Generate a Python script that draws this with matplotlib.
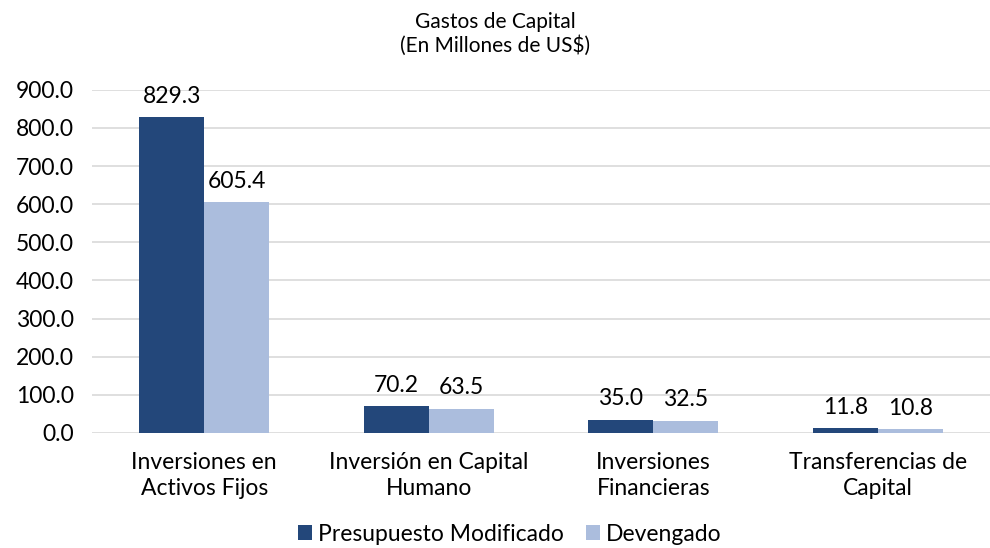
import numpy as np
import matplotlib
matplotlib.use("Agg")
import matplotlib.pyplot as plt

# --- DATOS ---
categorias = ["Inversiones en\nActivos Fijos", "Inversión en Capital\nHumano",
              "Inversiones\nFinancieras", "Transferencias de\nCapital"]
presupuesto = [829.3, 70.2, 35.0, 11.8]
devengado = [605.4, 63.5, 32.5, 10.8]
series = ["Presupuesto Modificado", "Devengado"]

C_OSCURO = "#23477A"
C_CLARO = "#ABBDDD"
FS = 16.5

plt.rcParams['font.family'] = ['Lato', 'DejaVu Sans']

fig = plt.figure(figsize=(9.9, 5.48), dpi=100)
ax = fig.add_axes([0.093, 0.21, 0.907, 0.626])

x = np.arange(len(categorias))
w = 0.29
b1 = ax.bar(x - w / 2, presupuesto, w, color=C_OSCURO, label=series[0], zorder=3)
b2 = ax.bar(x + w / 2, devengado, w, color=C_CLARO, label=series[1], zorder=3)

for bars in (b1, b2):
    for bar in bars:
        h = bar.get_height()
        ax.text(bar.get_x() + bar.get_width() / 2, h + 27, f"{h:.1f}",
                ha='center', va='bottom', fontsize=FS, color='black')

ax.set_ylim(0, 900)
ax.set_xlim(-0.5, 3.5)
ax.set_yticks(np.arange(0, 901, 100))
ax.set_yticklabels([f"{v:.1f}" for v in np.arange(0, 901, 100)], fontsize=FS)
ax.set_xticks(x)
ax.set_xticklabels(categorias, fontsize=FS, linespacing=1.25)
ax.tick_params(axis='both', length=0)
ax.tick_params(axis='y', pad=13)
ax.tick_params(axis='x', pad=14)
ax.yaxis.grid(True, color='#D9D9D9', linewidth=1.2, zorder=0)
for s in ax.spines.values():
    s.set_visible(False)

fig.text(0.5, 0.978, "Gastos de Capital\n(En Millones de US$)", ha='center', va='top',
         fontsize=15, linespacing=1.2)

fig.legend(handles=[b1, b2], labels=series, loc='center', bbox_to_anchor=(0.515, 0.025),
           ncol=2, frameon=False, fontsize=FS, handlelength=0.6, handleheight=0.6,
           handletextpad=0.25, columnspacing=1.0)

fig.savefig("out.png", dpi=100)
